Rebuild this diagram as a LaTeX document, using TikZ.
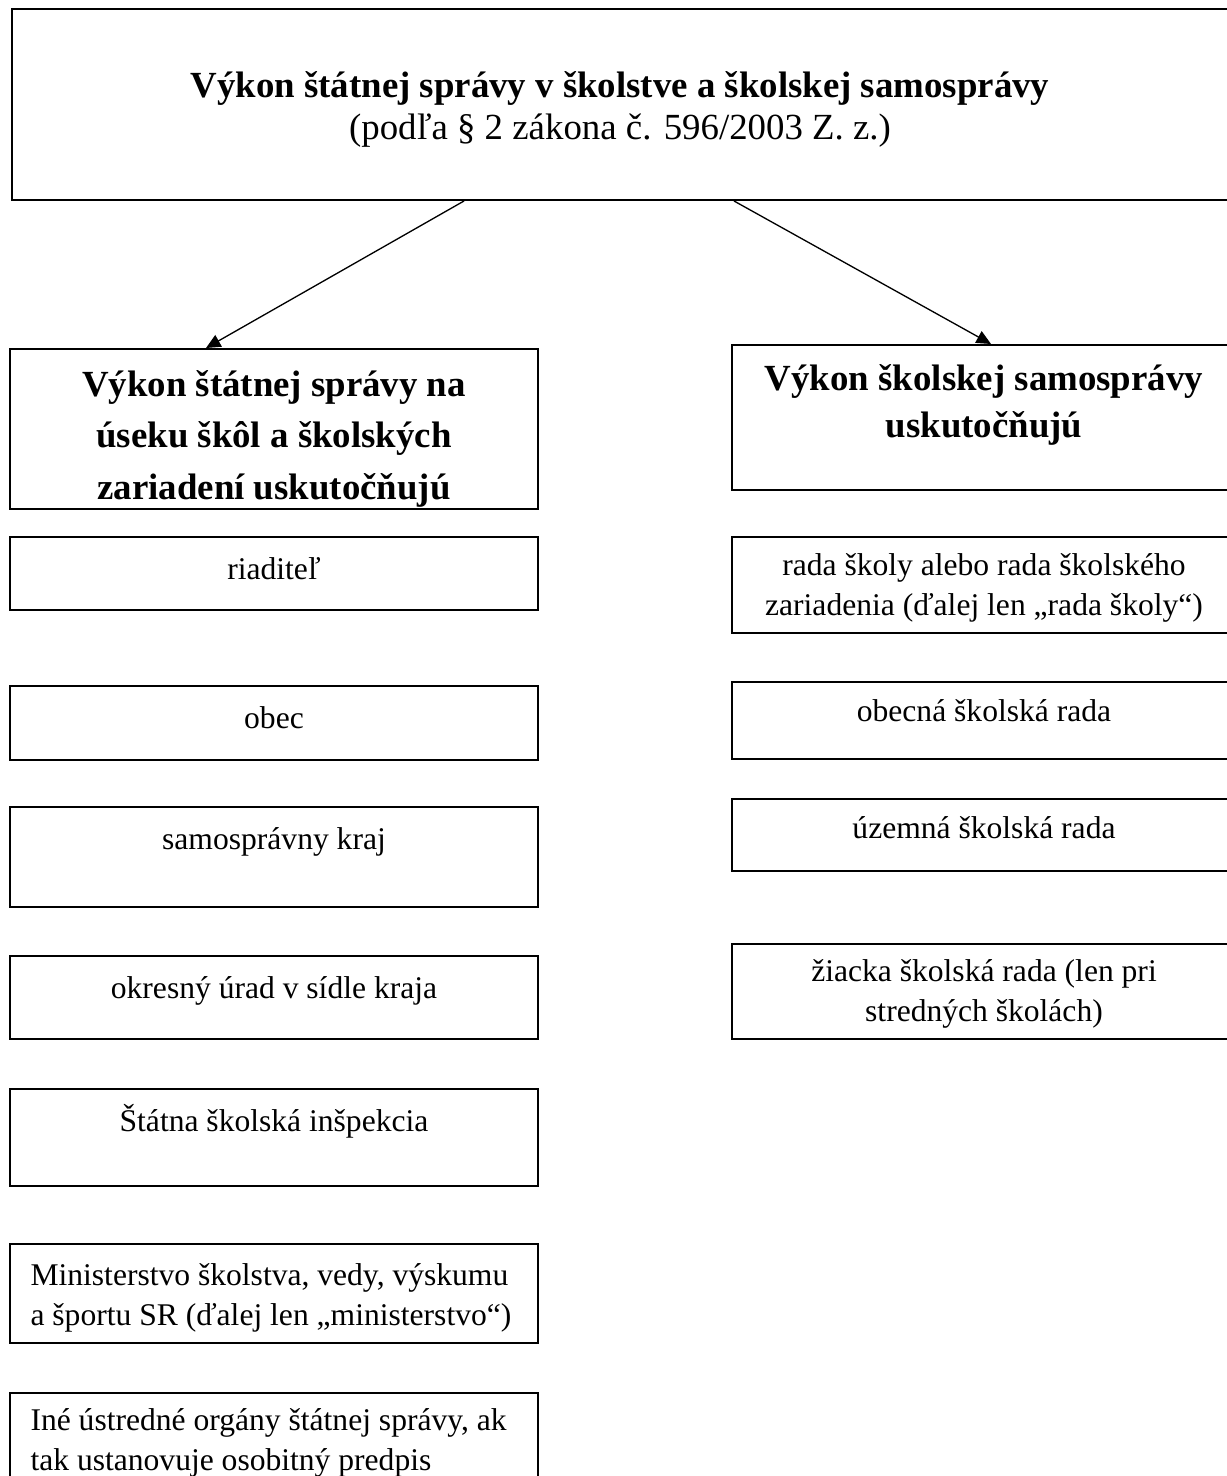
\documentclass[tikz,border=0pt]{standalone}
\usepackage{fontspec}
\setmainfont{Liberation Serif}
\usetikzlibrary{arrows.meta,fit,calc}
\begin{document}
\begin{tikzpicture}[x=0.38pt,y=-0.38pt,
  box/.style={draw, line width=0.75pt, inner sep=0pt},
  body/.style={font=\fontsize{12pt}{15pt}\selectfont, inner sep=0pt, anchor=base, align=center},
  bodyl/.style={font=\fontsize{12pt}{15pt}\selectfont, inner sep=0pt, anchor=base west, align=left},
  hdr/.style={font=\fontsize{14pt}{19.4pt}\selectfont\bfseries, inner sep=0pt, anchor=base, align=center},
  hdrr/.style={font=\fontsize{14pt}{17.8pt}\selectfont\bfseries, inner sep=0pt, anchor=base, align=center},
  ttl/.style={font=\fontsize{14pt}{16.3pt}\selectfont, inner sep=0pt, anchor=base, align=center},
  arr/.style={line width=0.5pt, -{Triangle[length=5.5pt,width=5pt]}}]
\useasboundingbox (0,0) rectangle (1226,1476);

% top box
\node[box, fit={(12,9) (1240,200)}] (top) {};
\node[ttl] (title) at (620,140) {\textbf{Výkon štátnej správy v školstve a školskej samosprávy}\\(podľa § 2 zákona č. 596/2003 Z. z.)};

% headers
\node[box, fit={(10,349) (538,509)}] (lh) {};
\node[hdr] (lht) at (274,499) {Výkon štátnej správy na\\úseku škôl a školských\\zariadení uskutočňujú};
\node[box, fit={(732,345) (1236,490)}] (rh) {};
\node[hdrr] (rht) at (984,437) {Výkon školskej samosprávy\\uskutočňujú};

% arrows
\draw[arr] ($(top.south west)+(453,0)$) -- ($(lh.north west)+(197,0)$);
\draw[arr] ($(top.south west)+(723,0)$) -- ($(rh.north west)+(260,0)$);

% left column
\node[box, fit={(10,537) (538,610)}] (l1) {};
\node[body] (l1t) at (274,579) {riaditeľ};
\node[box, fit={(10,686) (538,760)}] (l2) {};
\node[body] (l2t) at (274,728) {obec};
\node[box, fit={(10,807) (538,907)}] (l3) {};
\node[body] (l3t) at (274,849) {samosprávny kraj};
\node[box, fit={(10,956) (538,1039)}] (l4) {};
\node[body] (l4t) at (274,998) {okresný úrad v sídle kraja};
\node[box, fit={(10,1089) (538,1186)}] (l5) {};
\node[body] (l5t) at (274,1131) {Štátna školská inšpekcia};
\node[box, fit={(10,1244) (538,1343)}] (l6) {};
\node[bodyl] (l6t) at (30,1325) {Ministerstvo školstva, vedy, výskumu\\a športu SR (ďalej len „ministerstvo“)};
\node[box, fit={(10,1393) (538,1530)}] (l7) {};
\node[bodyl] (l7t) at (30,1470) {Iné ústredné orgány štátnej správy, ak\\tak ustanovuje osobitný predpis};

% right column
\node[box, fit={(732,537) (1236,633)}] (r1) {};
\node[body] (r1t) at (984,615) {rada školy alebo rada školského\\zariadenia (ďalej len „rada školy“)};
\node[box, fit={(732,682) (1236,759)}] (r2) {};
\node[body] (r2t) at (984,721) {obecná školská rada};
\node[box, fit={(732,799) (1236,871)}] (r3) {};
\node[body] (r3t) at (984,838) {územná školská rada};
\node[box, fit={(732,944) (1236,1039)}] (r4) {};
\node[body] (r4t) at (984,1021) {žiacka školská rada (len pri\\stredných školách)};
\end{tikzpicture}
\end{document}
